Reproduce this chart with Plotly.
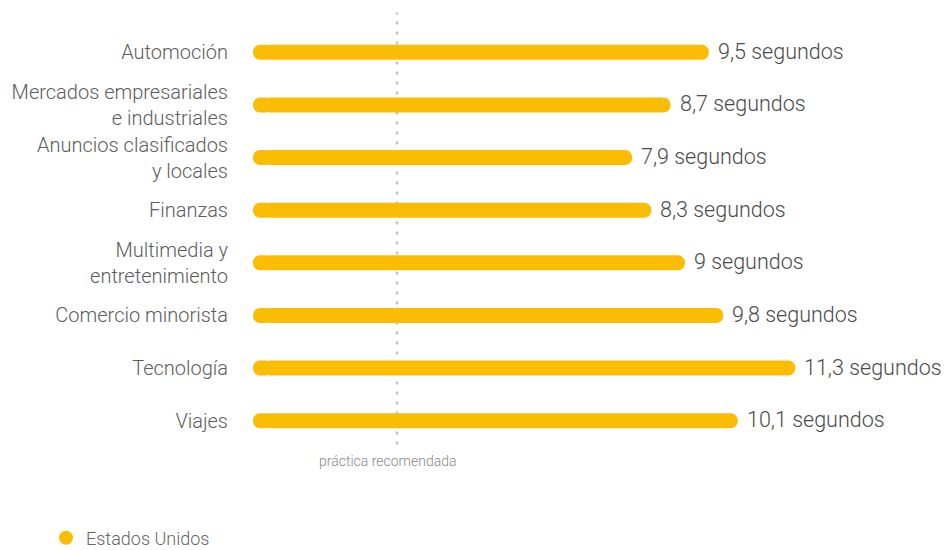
import plotly.graph_objects as go

categories = [
    "Automoción",
    "Mercados empresariales<br>e industriales",
    "Anuncios clasificados<br>y locales",
    "Finanzas",
    "Multimedia y<br>entretenimiento",
    "Comercio minorista",
    "Tecnología",
    "Viajes",
]
values = [9.5, 8.7, 7.9, 8.3, 9.0, 9.8, 11.3, 10.1]
value_labels = ["9,5 segundos", "8,7 segundos", "7,9 segundos", "8,3 segundos",
                "9 segundos", "9,8 segundos", "11,3 segundos", "10,1 segundos"]
series_name = "Estados Unidos"
recommended = 3
recommended_label = "práctica recomendada"

YELLOW = "#FBBC04"
W, H = 946, 550
ML, MR, MT, MB = 253, 0, 25.6, 102.7
XMAX = 14.44
plot_h = H - MT - MB
bar_px = 15
row_px = plot_h / len(categories)
bar_w = bar_px / row_px
CAP = 0.2  # length (in axis units) of the overlapping piece that rounds the left end

fig = go.Figure()
# main bar, rounded right end
fig.add_trace(go.Bar(
    y=categories, x=[v - CAP for v in values], base=CAP,
    orientation="h", marker=dict(color=YELLOW, cornerradius="50%", line=dict(width=0)),
    width=bar_w, showlegend=False, hoverinfo="skip",
))
# short piece drawn toward zero so that the left end is rounded too
fig.add_trace(go.Bar(
    y=categories, x=[-2 * CAP] * len(values), base=2 * CAP,
    orientation="h", marker=dict(color=YELLOW, cornerradius="50%", line=dict(width=0)),
    width=bar_w, showlegend=False, hoverinfo="skip",
))
fig.add_trace(go.Scatter(
    x=[None], y=[None], mode="markers",
    marker=dict(color=YELLOW, size=14, line=dict(width=0)),
    name=series_name, showlegend=True, hoverinfo="skip",
))

for c, v, t in zip(categories, values, value_labels):
    fig.add_annotation(x=v, y=c, text=t, showarrow=False, xanchor="left",
                       xshift=7, yshift=1,
                       font=dict(family="Roboto", size=21.5, weight=300, color="#4a4a4a"))

fig.add_shape(type="line", x0=recommended, x1=recommended, xref="x", yref="paper",
              y0=0.006, y1=1.032, layer="below",
              line=dict(color="#c4c4c4", width=2.5, dash="3px,7px"))
fig.add_annotation(x=recommended, xref="x", xshift=-9, y=-0.034, yref="paper",
                   text=recommended_label, showarrow=False, yanchor="middle",
                   font=dict(family="Roboto", size=14, weight=300, color="#888"))

fig.update_layout(
    width=W, height=H, margin=dict(l=ML, r=MR, t=MT, b=MB, autoexpand=False),
    paper_bgcolor="white", plot_bgcolor="white",
    xaxis=dict(range=[0, XMAX], visible=False, fixedrange=True, automargin=False),
    yaxis=dict(categoryorder="array", categoryarray=categories, automargin=False,
               fixedrange=True,
               range=[len(categories) - 0.5, -0.5], showgrid=False, zeroline=False,
               showline=False, ticks="", ticklabelstandoff=24,
               tickfont=dict(family="Roboto", size=20, weight=300, color="#5c5c5c")),
    barmode="overlay",
    legend=dict(xref="container", yref="container", x=46 / W, y=(H - 538) / H,
                xanchor="left", yanchor="middle", orientation="h",
                font=dict(family="Roboto", size=18, weight=300, color="#666"),
                bgcolor="rgba(0,0,0,0)"),
    showlegend=True,
)
fig.write_html("out.html", config={"displayModeBar": False},
               post_script="document.body.style.margin='0';document.body.style.overflow='hidden';")
